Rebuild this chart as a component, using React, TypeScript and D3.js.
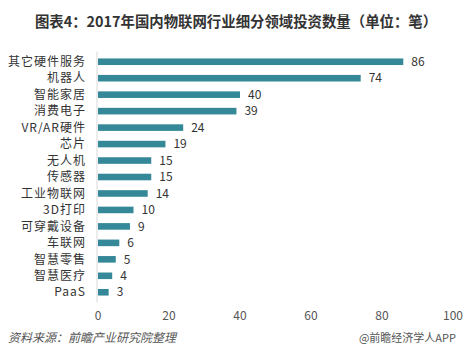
import React from "react";
import * as d3 from "d3";

const categories = ["其它硬件服务", "机器人", "智能家居", "消费电子", "VR/AR硬件", "芯片", "无人机", "传感器", "工业物联网", "3D打印", "可穿戴设备", "车联网", "智慧零售", "智慧医疗", "PaaS"];
const values = [86, 74, 40, 39, 24, 19, 15, 15, 14, 10, 9, 6, 5, 4, 3];
const ticks = [0, 20, 40, 60, 80, 100];

const W = 474, H = 364;
const x0 = 98, x1 = 453;
const yTop = 53.5, yBot = 300.5;
const font = "'Noto Sans CJK SC', 'Noto Sans', sans-serif";

export default function App() {
  const x = d3.scaleLinear().domain([0, 100]).range([x0, x1]);
  const y = d3.scaleBand<string>().domain(categories).range([yTop, yBot]).paddingInner(0.6).paddingOuter(0.3);
  return (
    <svg width={W} height={H} style={{ position: "absolute", left: 0, top: 0, background: "#fff" }}>
      <text x={236} y={27} textAnchor="middle" fontFamily={font} fontSize={14.4} fontWeight="bold" fill="#333">
        图表4：2017年国内物联网行业细分领域投资数量（单位：笔）
      </text>
      <line x1={x(0) - 1} x2={x(0) - 1} y1={yTop - 2} y2={yBot + 2} stroke="#d9d9d9" strokeWidth={1} />
      {categories.map((c, i) => {
        const yy = y(c)!;
        const bw = y.bandwidth();
        return (
          <g key={c}>
            <rect x={x(0)} y={yy} width={x(values[i]) - x(0)} height={bw} fill="#358898" />
            <text x={86} y={yy + bw / 2} dy="0.35em" textAnchor="end" fontFamily={font} fontSize={12} letterSpacing={1} fill="#333">{c}</text>
            <text x={x(values[i]) + 8} y={yy + bw / 2} dy="0.35em" textAnchor="start" fontFamily={font} fontSize={12} fill="#333">{values[i]}</text>
          </g>
        );
      })}
      {ticks.map((t) => (
        <text key={t} x={x(t)} y={320} textAnchor="middle" fontFamily={font} fontSize={12} fill="#555">{t}</text>
      ))}
      <text x={8} y={342} fontFamily={font} fontSize={12} fontStyle="italic" fill="#555">资料来源：前瞻产业研究院整理</text>
      <text x={456} y={342} textAnchor="end" fontFamily={font} fontSize={11} fill="#555">@前瞻经济学人APP</text>
    </svg>
  );
}
